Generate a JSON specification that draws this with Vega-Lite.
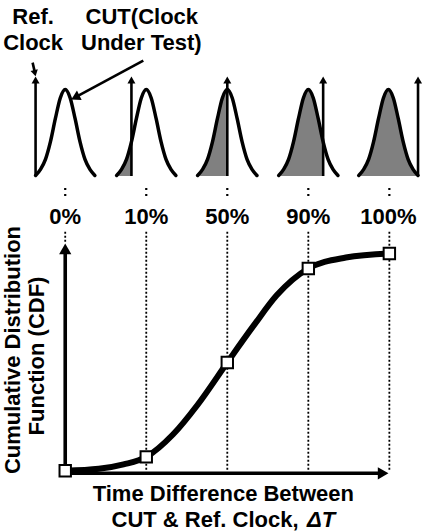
{
  "$schema": "https://vega.github.io/schema/vega-lite/v6.json",
  "width": 425,
  "height": 531,
  "padding": 0,
  "autosize": {"type": "fit", "contains": "padding"},
  "background": "white",
  "config": {"view": {"stroke": null}},
  "datasets": {
    "gauss": [
      {"g": 1, "x": 36, "y": 176.5}, {"g": 1, "x": 41, "y": 170.4}, {"g": 1, "x": 46, "y": 160.3}, {"g": 1, "x": 51, "y": 142.7}, {"g": 1, "x": 56, "y": 119.4}, {"g": 1, "x": 61, "y": 98.5}, {"g": 1, "x": 66, "y": 90}, {"g": 1, "x": 71, "y": 98.5}, {"g": 1, "x": 76, "y": 119.4}, {"g": 1, "x": 81, "y": 142.7}, {"g": 1, "x": 86, "y": 160.3}, {"g": 1, "x": 91, "y": 170.4}, {"g": 1, "x": 96, "y": 176.5},
      {"g": 2, "x": 118, "y": 176.5}, {"g": 2, "x": 123, "y": 170.4}, {"g": 2, "x": 128, "y": 160.3}, {"g": 2, "x": 133, "y": 142.7}, {"g": 2, "x": 138, "y": 119.4}, {"g": 2, "x": 143, "y": 98.5}, {"g": 2, "x": 148, "y": 90}, {"g": 2, "x": 153, "y": 98.5}, {"g": 2, "x": 158, "y": 119.4}, {"g": 2, "x": 163, "y": 142.7}, {"g": 2, "x": 168, "y": 160.3}, {"g": 2, "x": 173, "y": 170.4}, {"g": 2, "x": 178, "y": 176.5},
      {"g": 3, "x": 200, "y": 176.5}, {"g": 3, "x": 205, "y": 170.4}, {"g": 3, "x": 210, "y": 160.3}, {"g": 3, "x": 215, "y": 142.7}, {"g": 3, "x": 220, "y": 119.4}, {"g": 3, "x": 225, "y": 98.5}, {"g": 3, "x": 230, "y": 90}, {"g": 3, "x": 235, "y": 98.5}, {"g": 3, "x": 240, "y": 119.4}, {"g": 3, "x": 245, "y": 142.7}, {"g": 3, "x": 250, "y": 160.3}, {"g": 3, "x": 255, "y": 170.4}, {"g": 3, "x": 260, "y": 176.5},
      {"g": 4, "x": 282, "y": 176.5}, {"g": 4, "x": 287, "y": 170.4}, {"g": 4, "x": 292, "y": 160.3}, {"g": 4, "x": 297, "y": 142.7}, {"g": 4, "x": 302, "y": 119.4}, {"g": 4, "x": 307, "y": 98.5}, {"g": 4, "x": 312, "y": 90}, {"g": 4, "x": 317, "y": 98.5}, {"g": 4, "x": 322, "y": 119.4}, {"g": 4, "x": 327, "y": 142.7}, {"g": 4, "x": 332, "y": 160.3}, {"g": 4, "x": 337, "y": 170.4}, {"g": 4, "x": 342, "y": 176.5},
      {"g": 5, "x": 363, "y": 176.5}, {"g": 5, "x": 368, "y": 170.4}, {"g": 5, "x": 373, "y": 160.3}, {"g": 5, "x": 378, "y": 142.7}, {"g": 5, "x": 383, "y": 119.4}, {"g": 5, "x": 388, "y": 98.5}, {"g": 5, "x": 393, "y": 90}, {"g": 5, "x": 398, "y": 98.5}, {"g": 5, "x": 403, "y": 119.4}, {"g": 5, "x": 408, "y": 142.7}, {"g": 5, "x": 413, "y": 160.3}, {"g": 5, "x": 418, "y": 170.4}, {"g": 5, "x": 423, "y": 176.5}
    ],
    "shade": [
      {"g": 2, "x": 118, "y": 176.5}, {"g": 2, "x": 123, "y": 170.4}, {"g": 2, "x": 128, "y": 160.3}, {"g": 2, "x": 133, "y": 142.7},
      {"g": 3, "x": 200, "y": 176.5}, {"g": 3, "x": 205, "y": 170.4}, {"g": 3, "x": 210, "y": 160.3}, {"g": 3, "x": 215, "y": 142.7}, {"g": 3, "x": 220, "y": 119.4}, {"g": 3, "x": 225, "y": 98.5}, {"g": 3, "x": 230, "y": 90},
      {"g": 4, "x": 282, "y": 176.5}, {"g": 4, "x": 287, "y": 170.4}, {"g": 4, "x": 292, "y": 160.3}, {"g": 4, "x": 297, "y": 142.7}, {"g": 4, "x": 302, "y": 119.4}, {"g": 4, "x": 307, "y": 98.5}, {"g": 4, "x": 312, "y": 90}, {"g": 4, "x": 317, "y": 98.5}, {"g": 4, "x": 322, "y": 119.4}, {"g": 4, "x": 327, "y": 142.7},
      {"g": 5, "x": 363, "y": 176.5}, {"g": 5, "x": 368, "y": 170.4}, {"g": 5, "x": 373, "y": 160.3}, {"g": 5, "x": 378, "y": 142.7}, {"g": 5, "x": 383, "y": 119.4}, {"g": 5, "x": 388, "y": 98.5}, {"g": 5, "x": 393, "y": 90}, {"g": 5, "x": 398, "y": 98.5}, {"g": 5, "x": 403, "y": 119.4}, {"g": 5, "x": 408, "y": 142.7}, {"g": 5, "x": 413, "y": 160.3}, {"g": 5, "x": 418, "y": 170.4}, {"g": 5, "x": 423, "y": 176.5}
    ],
    "arrows": [
      {"kind": "panel", "x": 36, "y": 177, "x2": 36, "y2": 82},
      {"kind": "panel", "x": 133, "y": 177, "x2": 133, "y2": 82},
      {"kind": "panel", "x": 230, "y": 177, "x2": 230, "y2": 82},
      {"kind": "panel", "x": 327, "y": 177, "x2": 327, "y2": 82},
      {"kind": "panel", "x": 423, "y": 177, "x2": 423, "y2": 82},
      {"kind": "note", "x": 145, "y": 61, "x2": 76, "y2": 98},
      {"kind": "note", "x": 33, "y": 63, "x2": 35.3, "y2": 73},
      {"kind": "axis", "x": 66, "y": 477.5, "x2": 66, "y2": 254},
      {"kind": "axis", "x": 64, "y": 476, "x2": 386, "y2": 476}
    ],
    "heads": [
      {"kind": "panel", "x": 36, "y": 80.5},
      {"kind": "panel", "x": 133, "y": 80.5},
      {"kind": "panel", "x": 230, "y": 80.5},
      {"kind": "panel", "x": 327, "y": 80.5},
      {"kind": "panel", "x": 423, "y": 80.5},
      {"kind": "axisUp", "x": 66, "y": 250.3},
      {"kind": "axisRight", "x": 387.7, "y": 476},
      {"kind": "cut", "x": 76.2, "y": 97.9},
      {"kind": "ref", "x": 35.3, "y": 73.6}
    ],
    "guides": [
      {"x": 66, "y": 233, "y2": 243},
      {"x": 148, "y": 233, "y2": 474},
      {"x": 230, "y": 233, "y2": 474},
      {"x": 312, "y": 233, "y2": 474},
      {"x": 394, "y": 233, "y2": 474}
    ],
    "colons": [
      {"x": 66, "y": 189, "y2": 197},
      {"x": 148, "y": 189, "y2": 197},
      {"x": 230, "y": 189, "y2": 197},
      {"x": 312, "y": 189, "y2": 197},
      {"x": 394, "y": 189, "y2": 197}
    ],
    "cdf": [
      {"x": 66, "y": 473.5, "pct": 0},
      {"x": 100, "y": 471.5, "pct": null},
      {"x": 125, "y": 467, "pct": null},
      {"x": 148, "y": 459.5, "pct": 10},
      {"x": 175, "y": 437, "pct": null},
      {"x": 200, "y": 407, "pct": null},
      {"x": 230, "y": 364.5, "pct": 50},
      {"x": 257, "y": 327, "pct": null},
      {"x": 280, "y": 297, "pct": null},
      {"x": 312, "y": 270, "pct": 90},
      {"x": 350, "y": 259, "pct": null},
      {"x": 394, "y": 255, "pct": 100}
    ],
    "labels": [
      {"x": 33.5, "y": 24.3, "text": "Ref."},
      {"x": 33.5, "y": 50.7, "text": "Clock"},
      {"x": 143.5, "y": 24.3, "text": "CUT(Clock"},
      {"x": 143, "y": 50.7, "text": "Under Test)"},
      {"x": 66, "y": 225, "text": "0%"},
      {"x": 148, "y": 225, "text": "10%"},
      {"x": 230, "y": 225, "text": "50%"},
      {"x": 312, "y": 225, "text": "90%"},
      {"x": 393, "y": 225, "text": "100%"},
      {"x": 226, "y": 504, "text": "Time Difference Between"},
      {"x": 207.5, "y": 529.5, "text": "CUT & Ref. Clock,"}
    ],
    "italic": [
      {"x": 325, "y": 529.5, "text": "ΔT"}
    ],
    "ytitle": [
      {"x": 20.5, "y": 352, "text": "Cumulative Distribution"},
      {"x": 44.5, "y": 358, "text": "Function (CDF)"}
    ]
  },
  "encoding": {
    "x": {"field": "x", "type": "quantitative", "scale": {"domain": [0, 425], "nice": false, "zero": false}, "axis": null},
    "y": {"field": "y", "type": "quantitative", "scale": {"domain": [0, 531], "nice": false, "zero": false, "reverse": true}, "axis": null}
  },
  "layer": [
    {
      "data": {"name": "guides"},
      "mark": {"type": "rule", "color": "black", "strokeWidth": 1.8, "strokeDash": [2, 2]},
      "encoding": {"y2": {"field": "y2"}}
    },
    {
      "data": {"name": "colons"},
      "mark": {"type": "rule", "color": "black", "strokeWidth": 2.2, "strokeDash": [2, 4]},
      "encoding": {"y2": {"field": "y2"}}
    },
    {
      "data": {"name": "shade"},
      "mark": {"type": "area", "color": "#808080", "interpolate": "monotone", "orient": "vertical", "opacity": 1},
      "encoding": {"y2": {"datum": 177}, "detail": {"field": "g", "type": "nominal"}}
    },
    {
      "data": {"name": "gauss"},
      "mark": {"type": "line", "color": "black", "strokeWidth": 3.5, "interpolate": "monotone", "strokeCap": "round"},
      "encoding": {"detail": {"field": "g", "type": "nominal"}}
    },
    {
      "data": {"name": "arrows"},
      "transform": [{"filter": "datum.kind === 'panel' || datum.kind === 'note'"}],
      "mark": {"type": "rule", "color": "black", "strokeWidth": 2.6},
      "encoding": {"x2": {"field": "x2"}, "y2": {"field": "y2"}}
    },
    {
      "data": {"name": "arrows"},
      "transform": [{"filter": "datum.kind === 'axis'"}],
      "mark": {"type": "rule", "color": "black", "strokeWidth": 3.6},
      "encoding": {"x2": {"field": "x2"}, "y2": {"field": "y2"}}
    },
    {
      "data": {"name": "heads"},
      "transform": [{"filter": "datum.kind === 'panel'"}],
      "mark": {"type": "point", "shape": "triangle-up", "filled": true, "color": "black", "size": 64, "opacity": 1},
      "encoding": {}
    },
    {
      "data": {"name": "heads"},
      "transform": [{"filter": "datum.kind === 'axisUp'"}],
      "mark": {"type": "point", "shape": "triangle-up", "filled": true, "color": "black", "size": 150, "opacity": 1},
      "encoding": {}
    },
    {
      "data": {"name": "heads"},
      "transform": [{"filter": "datum.kind === 'axisRight'"}],
      "mark": {"type": "point", "shape": "triangle-up", "angle": 90, "filled": true, "color": "black", "size": 150, "opacity": 1},
      "encoding": {}
    },
    {
      "data": {"name": "heads"},
      "transform": [{"filter": "datum.kind === 'cut'"}],
      "mark": {"type": "point", "shape": "triangle-up", "angle": 243, "filled": true, "color": "black", "size": 110, "opacity": 1},
      "encoding": {}
    },
    {
      "data": {"name": "heads"},
      "transform": [{"filter": "datum.kind === 'ref'"}],
      "mark": {"type": "point", "shape": "triangle-up", "angle": 167, "filled": true, "color": "black", "size": 55, "opacity": 1},
      "encoding": {}
    },
    {
      "data": {"name": "cdf"},
      "mark": {"type": "line", "color": "black", "strokeWidth": 6, "interpolate": "monotone", "strokeCap": "round"},
      "encoding": {}
    },
    {
      "data": {"name": "cdf"},
      "transform": [{"filter": "datum.pct != null"}],
      "mark": {"type": "point", "shape": "square", "filled": true, "fill": "white", "stroke": "black", "strokeWidth": 2, "size": 130, "opacity": 1},
      "encoding": {}
    },
    {
      "data": {"name": "labels"},
      "mark": {"type": "text", "font": "Liberation Sans", "fontWeight": "bold", "fontSize": 22, "align": "center", "baseline": "alphabetic", "color": "black"},
      "encoding": {"text": {"field": "text"}}
    },
    {
      "data": {"name": "italic"},
      "mark": {"type": "text", "font": "Liberation Sans", "fontWeight": "bold", "fontStyle": "italic", "fontSize": 22, "align": "center", "baseline": "alphabetic", "color": "black"},
      "encoding": {"text": {"field": "text"}}
    },
    {
      "data": {"name": "ytitle"},
      "mark": {"type": "text", "font": "Liberation Sans", "fontWeight": "bold", "fontSize": 22, "align": "center", "baseline": "alphabetic", "angle": -90, "color": "black"},
      "encoding": {"text": {"field": "text"}}
    }
  ]
}
